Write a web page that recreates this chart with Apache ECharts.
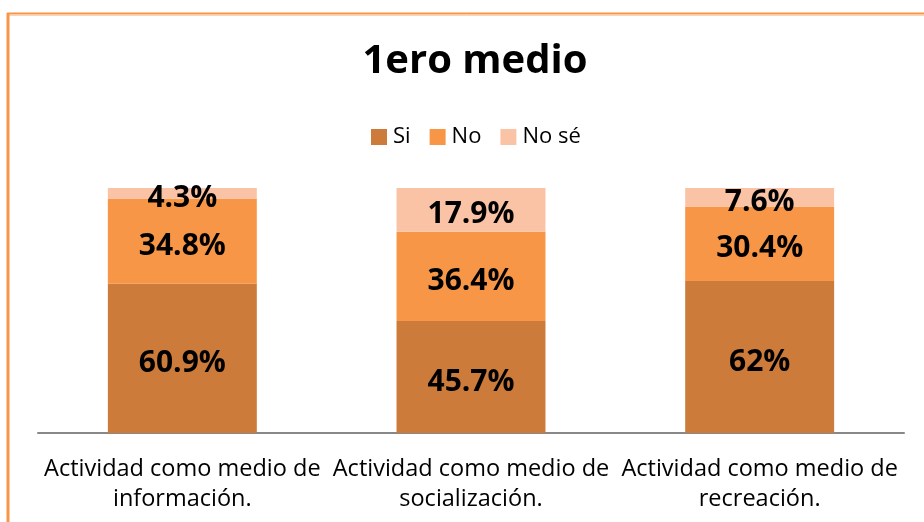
<!DOCTYPE html>
<html>
<head>
<meta charset="utf-8">
<script src="https://cdn.jsdelivr.net/npm/echarts@6/dist/echarts.min.js"></script>
<style>
html,body{margin:0;padding:0;background:#fff;}
#c{width:924px;height:522px;}
</style>
</head>
<body>
<div id="c"></div>
<script>
const categories = ["Actividad como medio de\ninformación.", "Actividad como medio de\nsocialización.", "Actividad como medio de\nrecreación."];
const seriesNames = ["Si", "No", "No sé"];
const siValues = [60.9, 45.7, 62];
const noValues = [34.8, 36.4, 30.4];
const noSeValues = [4.3, 17.9, 7.6];
const valueLabels = [["60.9%", "45.7%", "62%"], ["34.8%", "36.4%", "30.4%"], ["4.3%", "17.9%", "7.6%"]];

const colors = ["#CC7B3A", "#F79646", "#FAC3A6"];
const FONT = "Open Sans";
const chart = echarts.init(document.getElementById('c'));
const allValues = [siValues, noValues, noSeValues];
chart.setOption({
  animation: false,
  color: colors,
  title: {
    text: "1ero medio", left: 470, textAlign: 'center', top: 37,
    textStyle: {fontFamily: FONT, fontSize: 40, fontWeight: 'bold', color: '#000'}
  },
  legend: {
    data: seriesNames, top: 121, left: 366,
    itemWidth: 16, itemHeight: 16, itemGap: 19, icon: 'rect',
    textStyle: {fontFamily: FONT, fontSize: 22, color: '#000', padding: [0,0,0,1]}
  },
  grid: {left: 38, right: 20, top: 188, bottom: 89},
  xAxis: {
    type: 'category', data: categories,
    axisLine: {lineStyle: {color: '#888', width: 2}},
    axisTick: {show: false},
    axisLabel: {fontFamily: FONT, fontSize: 23.5, color: '#000', lineHeight: 30, margin: 21, interval: 0}
  },
  yAxis: {type: 'value', min: 0, max: 100, show: false, splitLine: {show: false}},
  graphic: [
    {type: 'line', shape: {x1: 7, y1: 13.5, x2: 924, y2: 13.5}, style: {stroke: '#F79646', lineWidth: 2}},
    {type: 'line', shape: {x1: 9, y1: 15.5, x2: 924, y2: 15.5}, style: {stroke: '#FBD4B4', lineWidth: 1}},
    {type: 'line', shape: {x1: 8, y1: 13, x2: 8, y2: 522}, style: {stroke: '#F79646', lineWidth: 3}}
  ],
  series: seriesNames.map((name, i) => ({
    name: name, type: 'bar', stack: 'total', barWidth: '51.6%',
    data: allValues[i],
    label: {
      show: true, position: 'inside', offset: [0, 5],
      formatter: p => valueLabels[i][p.dataIndex],
      fontFamily: FONT, fontSize: 30, fontWeight: 'bold', color: '#000'
    }
  }))
});
</script>
</body>
</html>
